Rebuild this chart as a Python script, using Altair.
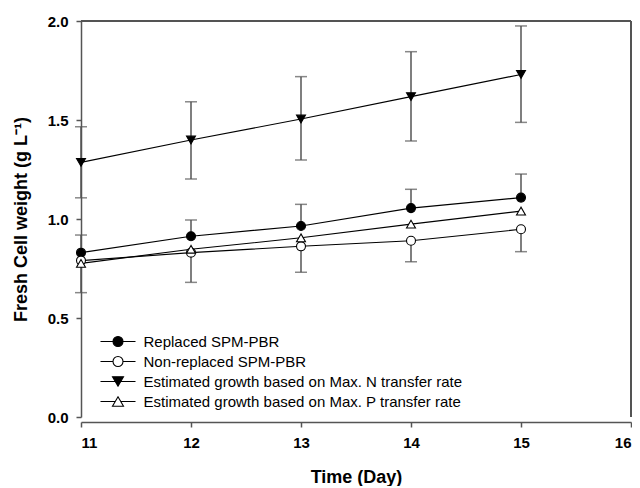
import altair as alt
import pandas as pd

days = [11, 12, 13, 14, 15]
series_names = [
    "Replaced SPM-PBR",
    "Non-replaced SPM-PBR",
    "Estimated growth based on Max. N transfer rate",
    "Estimated growth based on Max. P transfer rate",
]
replaced = [0.83, 0.913, 0.965, 1.055, 1.108]
replaced_hi = [0.919, 0.995, 1.074, 1.15, 1.227]
nonrep = [0.79, 0.83, 0.862, 0.89, 0.948]
nonrep_lo = [0.628, 0.68, 0.731, 0.784, 0.835]
est_n = [1.286, 1.399, 1.505, 1.618, 1.73]
est_n_lo = [1.107, 1.202, 1.298, 1.394, 1.488]
est_n_hi = [1.466, 1.592, 1.719, 1.845, 1.975]
est_p = [0.776, 0.847, 0.905, 0.974, 1.04]

values = [replaced, nonrep, est_n, est_p]
rows = []
for name, vals in zip(series_names, values):
    for d, v in zip(days, vals):
        rows.append({"series": name, "day": d, "value": v})
df = pd.DataFrame(rows)

err_rows = []
cap_rows = []
for d, v, hi in zip(days, replaced, replaced_hi):
    err_rows.append({"day": d, "lo": v, "hi": hi})
    cap_rows.append({"day": d, "cap": hi})
for d, v, lo in zip(days, nonrep, nonrep_lo):
    err_rows.append({"day": d, "lo": lo, "hi": v})
    cap_rows.append({"day": d, "cap": lo})
for d, lo, hi in zip(days, est_n_lo, est_n_hi):
    err_rows.append({"day": d, "lo": lo, "hi": hi})
    cap_rows.append({"day": d, "cap": lo})
    cap_rows.append({"day": d, "cap": hi})
err_df = pd.DataFrame(err_rows)
cap_df = pd.DataFrame(cap_rows)

AX = "#555555"
FONT = "Liberation Sans"

xscale = alt.Scale(domain=[11, 16], nice=False, zero=False)
yscale = alt.Scale(domain=[0, 2], nice=False)

xaxis = alt.Axis(
    title="Time (Day)", values=[11, 12, 13, 14, 15, 16], format="d", offset=5,
    grid=False, domainColor=AX, domainWidth=1.5, tickColor=AX, tickWidth=1.5,
    tickSize=5, labelFontSize=15, labelFontWeight="bold", labelPadding=8,
    labelColor="black", titleFontSize=18, titleFontWeight="bold",
    titleY=60, titleBaseline="alphabetic", titleColor="black",
)
yaxis = alt.Axis(
    title="Fresh Cell weight (g L⁻¹)", values=[0, 0.5, 1.0, 1.5, 2.0], format=".1f",
    grid=False, domainColor=AX, domainWidth=1.5, tickColor=AX, tickWidth=1.5,
    tickSize=5, labelFontSize=15, labelFontWeight="bold", labelPadding=8,
    labelColor="black", titleFontSize=18, titleFontWeight="bold",
    titleX=-60, titleY=198, titleAngle=-90, titleAlign="center",
    titleBaseline="middle", titleColor="black",
)

top_rule = alt.Chart(df).mark_rule(color=AX, strokeWidth=1.5).encode(
    x=alt.datum(11, scale=xscale), x2=alt.datum(16), y=alt.datum(2, scale=yscale)
)
right_rule = alt.Chart(df).mark_rule(color=AX, strokeWidth=1.5).encode(
    x=alt.datum(16, scale=xscale), y=alt.datum(0, scale=yscale), y2=alt.datum(2)
)

err = alt.Chart(err_df).mark_rule(color=AX, strokeWidth=1.5).encode(
    x=alt.X("day:Q", scale=xscale, axis=xaxis),
    y=alt.Y("lo:Q", scale=yscale, axis=yaxis),
    y2="hi:Q",
)
caps = alt.Chart(cap_df).mark_tick(color=AX, orient="horizontal", size=12, thickness=1.5).encode(
    x=alt.X("day:Q", scale=xscale),
    y=alt.Y("cap:Q", scale=yscale),
)
lines = alt.Chart(df).mark_line(color="black", strokeWidth=1.1).encode(
    x=alt.X("day:Q", scale=xscale),
    y=alt.Y("value:Q", scale=yscale),
    detail="series:N",
)

points = alt.Chart(df).mark_point(stroke="black", strokeWidth=1.1, opacity=1, size=80).encode(
    x=alt.X("day:Q", scale=xscale),
    y=alt.Y("value:Q", scale=yscale),
    shape=alt.Shape("series:N", scale=alt.Scale(
        domain=series_names,
        range=["circle", "circle", "triangle-down", "triangle-up"]), legend=None),
    fill=alt.Fill("series:N", scale=alt.Scale(
        domain=series_names, range=["black", "white", "black", "white"]), legend=None),
)

# legend symbols: marker with a short line through it
circ = "M1,0A1,1,0,1,1,-1,0A1,1,0,1,1,1,0Z"
p_filled_circle = "M-3.5,0H3.5" + circ
p_open_circle = "M-3.5,0H-1M1,0H3.5" + circ
p_tri_down = "M-3.5,0H3.5M-1.1,-0.95L1.1,-0.95L0,0.95Z"
p_tri_up = "M-3.5,0H-0.55M0.55,0H3.5M0,-0.95L1.1,0.95L-1.1,0.95Z"

legend = alt.Legend(
    title=None, orient="none", legendX=29.5, legendY=313, padding=0,
    labelFont=FONT, labelFontSize=15, labelColor="black", labelOffset=18,
    symbolSize=100, symbolOffset=0, symbolStrokeWidth=1.1, rowPadding=4,
    symbolOpacity=1, labelLimit=0,
)

legend_layer = alt.Chart(df).transform_filter("datum.day > 100").mark_point(
    strokeWidth=1.1, opacity=1, size=100
).encode(
    x=alt.X("day:Q", scale=xscale),
    y=alt.Y("value:Q", scale=yscale),
    shape=alt.Shape("series:N", scale=alt.Scale(
        domain=series_names,
        range=[p_filled_circle, p_open_circle, p_tri_down, p_tri_up]), legend=legend),
    fill=alt.Fill("series:N", scale=alt.Scale(
        domain=series_names, range=["black", "white", "black", "white"]), legend=legend),
    stroke=alt.Stroke("series:N", scale=alt.Scale(
        domain=series_names, range=["black", "black", "black", "black"]), legend=legend),
)

chart = alt.layer(err, caps, lines, points, legend_layer, top_rule, right_rule).resolve_scale(
    shape="independent", fill="independent", stroke="independent"
).properties(
    width=550, height=396,
    autosize=alt.AutoSizeParams(type="none"),
    padding={"left": 73, "top": 13, "right": 1, "bottom": 69},
).configure(font=FONT).configure_view(stroke=None)

chart.save("out.html", embed_options={"renderer": "svg", "actions": False})
